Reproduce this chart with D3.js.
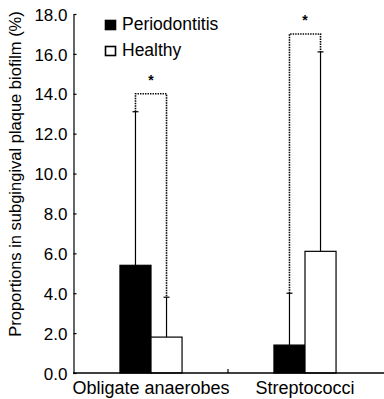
<!DOCTYPE html>
<html>
<head>
<meta charset="utf-8">
<script src="https://cdn.jsdelivr.net/npm/d3@7"></script>
<style>
  body { margin: 0; background: #fff; }
  text { font-family: "Liberation Sans", Arial, sans-serif; fill: #000; }
</style>
</head>
<body>
<svg id="chart" width="384" height="399"></svg>
<script>
// data
const categories = ['Obligate anaerobes', 'Streptococci']
const groups = ['Periodontitis', 'Healthy']
const periodontitis = [5.4, 1.4]
const periodontitisSD = [7.7, 2.6]
const healthy = [1.8, 6.1]
const healthySD = [2.0, 10.0]
const bracketLevels = [14.0, 17.0]
const yTicks = [0, 2, 4, 6, 8, 10, 12, 14, 16, 18]

const svg = d3.select('#chart')

const x = d3.scaleBand().domain(categories).range([74, 382])
const xInner = d3.scaleBand().domain(groups).range([0, x.bandwidth()]).paddingOuter(1.48)
const y = d3.scaleLinear().domain([0, 18]).range([373, 14])

const rows = categories.map(function (c, i) {
  return [
    { cat: c, group: groups[0], mean: periodontitis[i], sd: periodontitisSD[i] },
    { cat: c, group: groups[1], mean: healthy[i], sd: healthySD[i] }
  ]
})
const flat = rows.flat()

const cx = function (d) { return x(d.cat) + xInner(d.group) + xInner.bandwidth() / 2 }

// error bars (solid, drawn before bars)
const err = svg.append('g').attr('stroke', '#000').attr('stroke-width', 1.2)
err.selectAll('line.err').data(flat).join('line')
  .attr('class', 'err')
  .attr('x1', cx).attr('x2', cx)
  .attr('y1', function (d) { return y(d.mean) })
  .attr('y2', function (d) { return y(d.mean + d.sd) })
err.selectAll('line.cap').data(flat).join('line')
  .attr('class', 'cap')
  .attr('x1', function (d) { return cx(d) - 3 }).attr('x2', function (d) { return cx(d) + 3 })
  .attr('y1', function (d) { return y(d.mean + d.sd) })
  .attr('y2', function (d) { return y(d.mean + d.sd) })

// bars
svg.append('g').selectAll('rect').data(flat).join('rect')
  .attr('x', function (d) { return x(d.cat) + xInner(d.group) })
  .attr('y', function (d) { return y(d.mean) })
  .attr('width', xInner.bandwidth())
  .attr('height', function (d) { return y(0) - y(d.mean) })
  .attr('fill', function (d) { return d.group === 'Periodontitis' ? '#000' : '#fff' })
  .attr('stroke', '#000')
  .attr('stroke-width', 1.2)

// significance brackets (dotted)
const br = svg.append('g')
rows.forEach(function (pair, i) {
  const level = y(bracketLevels[i])
  const a = pair[0], b = pair[1]
  br.append('path')
    .attr('d', 'M' + cx(a) + ',' + y(a.mean + a.sd) + 'V' + level + 'H' + cx(b) + 'V' + y(b.mean + b.sd))
    .attr('fill', 'none')
    .attr('stroke', '#000')
    .attr('stroke-width', 1.6)
    .attr('stroke-dasharray', '1.4,1.1')
  br.append('text')
    .attr('x', (cx(a) + cx(b)) / 2)
    .attr('y', level - 9)
    .attr('text-anchor', 'middle')
    .style('font-size', '14px')
    .style('font-weight', 'bold')
    .text('*')
})

// y axis
const yAxis = svg.append('g')
  .attr('transform', 'translate(73.5,0)')
  .call(d3.axisLeft(y).tickValues(yTicks).tickFormat(d3.format('.1f')).tickSizeInner(-3).tickSizeOuter(0).tickPadding(6))
yAxis.select('.domain').attr('stroke-width', 1.2)
yAxis.selectAll('.tick line').attr('stroke-width', 1.2)
yAxis.selectAll('text').style('font-size', '17px').attr('dy', '0.36em')

// x axis
const xAxis = svg.append('g').attr('transform', 'translate(0,' + y(0) + ')')
xAxis.append('line').attr('x1', 73).attr('x2', 384).attr('stroke', '#000').attr('stroke-width', 1.6)
xAxis.append('line').attr('x1', x(categories[1])).attr('x2', x(categories[1]))
  .attr('y1', 0).attr('y2', -4).attr('stroke', '#000').attr('stroke-width', 1.2)
xAxis.selectAll('text').data(categories).join('text')
  .attr('x', function (d) { return x(d) + x.bandwidth() / 2 })
  .attr('y', 21)
  .attr('text-anchor', 'middle')
  .style('font-size', '18px')
  .text(function (d) { return d })

// y title
svg.append('text')
  .attr('transform', 'translate(21,174) rotate(-90)')
  .attr('text-anchor', 'middle')
  .style('font-size', '16.5px')
  .text('Proportions in subgingival plaque biofilm (%)')

// legend
const legend = svg.append('g').attr('transform', 'translate(105,20)')
legend.selectAll('g').data(groups).join('g')
  .attr('transform', function (d, i) { return 'translate(0,' + (i * 26) + ')' })
  .each(function (d, i) {
    const g = d3.select(this)
    g.append('rect').attr('x', 0.5).attr('y', 0.5).attr('width', 10).attr('height', 9)
      .attr('fill', i === 0 ? '#000' : '#fff').attr('stroke', '#000').attr('stroke-width', 1.6)
    g.append('text').attr('x', 17).attr('y', 10).style('font-size', '17.5px').text(d)
  })
</script>
</body>
</html>
